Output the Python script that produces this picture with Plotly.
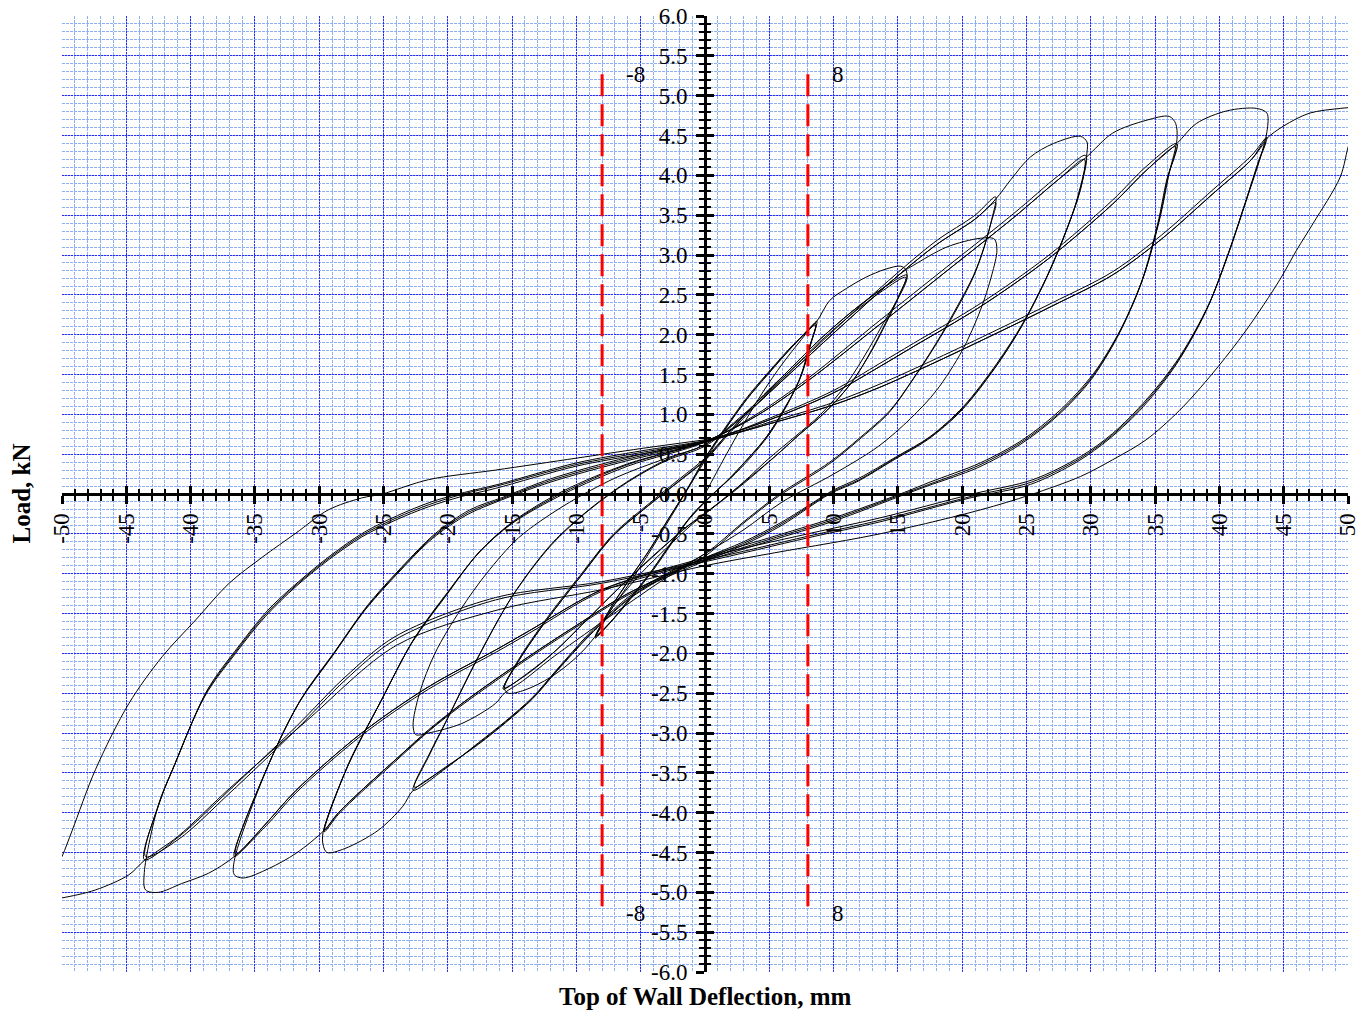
import plotly.graph_objects as go

# ---------------- tick labels ----------------
x_ticks = [-50, -45, -40, -35, -30, -25, -20, -15, -10, -5, 0, 5, 10, 15, 20, 25, 30, 35, 40, 45, 50]
x_tick_labels = ['-50', '-45', '-40', '-35', '-30', '-25', '-20', '-15', '-10', '-5', '0',
                 '5', '10', '15', '20', '25', '30', '35', '40', '45', '50']
y_ticks = [-6.0, -5.5, -5.0, -4.5, -4.0, -3.5, -3.0, -2.5, -2.0, -1.5, -1.0, -0.5, 0.0,
           0.5, 1.0, 1.5, 2.0, 2.5, 3.0, 3.5, 4.0, 4.5, 5.0, 5.5, 6.0]
y_tick_labels = ['-6.0', '-5.5', '-5.0', '-4.5', '-4.0', '-3.5', '-3.0', '-2.5', '-2.0', '-1.5', '-1.0', '-0.5', '0.0',
                 '0.5', '1.0', '1.5', '2.0', '2.5', '3.0', '3.5', '4.0', '4.5', '5.0', '5.5', '6.0']

# ---------------- reference limit lines ----------------
limit_x = [-8, 8]
limit_labels = ['-8', '8']
limit_y_top = 5.27
limit_y_bottom = -5.27

# ---------------- hysteresis data (deflection mm, load kN) ----------------
g1_c1 = [(0.0, 0.0), (1.5, 0.45), (3.0, 0.88), (4.5, 1.28), (6.0, 1.63), (7.5, 1.94), (8.7, 2.17),
         (8.3, 1.92), (7.5, 1.5), (6.5, 1.15), (5.0, 0.75), (3.5, 0.45), (2.0, 0.2), (0.6, 0.0), (-1.0, -0.26),
         (-2.5, -0.6), (-4.0, -0.95), (-5.5, -1.26), (-7.0, -1.55), (-8.55, -1.81),
         (-7.5, -1.5), (-6.0, -1.15), (-4.5, -0.78), (-3.0, -0.38), (-1.5, 0.02), (0.0, 0.42)]
g1_c2 = [(1.5, 0.8), (3.2, 1.18), (5.0, 1.52), (6.8, 1.85), (8.6, 2.14),
         (8.2, 1.88), (7.4, 1.45), (6.2, 1.08), (4.8, 0.72), (3.2, 0.42), (1.8, 0.18), (0.3, -0.05), (-1.2, -0.3),
         (-2.8, -0.65), (-4.3, -1.0), (-5.8, -1.3), (-7.2, -1.58), (-8.5, -1.78),
         (-7.4, -1.45), (-5.9, -1.08), (-4.4, -0.72), (-2.9, -0.33), (-1.4, 0.06), (0.0, 0.45)]
g1_c3 = [(1.6, 0.84), (3.3, 1.22), (5.1, 1.56), (6.9, 1.88), (8.6, 2.12),
         (8.1, 1.84), (7.3, 1.42), (6.1, 1.05), (4.7, 0.7), (3.1, 0.4), (1.7, 0.16), (0.2, -0.07), (-1.3, -0.33),
         (-2.9, -0.68), (-4.4, -1.02), (-5.9, -1.32), (-7.3, -1.6), (-8.5, -1.79),
         (-7.3, -1.42), (-5.8, -1.05), (-4.3, -0.7), (-2.8, -0.3), (-1.3, 0.08), (0.0, 0.45)]

g2_c1 = [(1.6, 0.82), (3.3, 1.2), (5.1, 1.55), (6.9, 1.87), (8.7, 2.17), (9.7, 2.43), (11.0, 2.58), (12.5, 2.72),
         (14.0, 2.82), (15.2, 2.86), (15.6, 2.82), (15.7, 2.7),
         (15.0, 2.45), (14.0, 2.18), (12.8, 1.84), (11.0, 1.38), (9.0, 1.0), (7.0, 0.72), (5.0, 0.45), (3.0, 0.15),
         (1.0, -0.12), (-1.0, -0.38), (-3.0, -0.68), (-5.0, -1.0), (-7.0, -1.38), (-8.6, -1.8),
         (-10.0, -2.05), (-12.0, -2.3), (-14.0, -2.46), (-15.3, -2.5), (-15.6, -2.44),
         (-14.5, -2.1), (-12.3, -1.58), (-9.7, -1.04), (-7.1, -0.52), (-4.5, -0.16), (-1.9, 0.18), (0.0, 0.43)]
g2_c2 = [(2.0, 0.8), (4.0, 1.15), (6.5, 1.55), (9.0, 1.95), (11.5, 2.3), (13.8, 2.58), (15.7, 2.75),
         (15.1, 2.5), (14.2, 2.2), (13.0, 1.82), (11.5, 1.42), (9.5, 1.05), (7.5, 0.77), (5.5, 0.48), (3.2, 0.17),
         (1.0, -0.12), (-1.5, -0.42), (-4.0, -0.78), (-6.5, -1.15), (-9.0, -1.55), (-11.5, -1.95), (-13.8, -2.25),
         (-15.7, -2.45),
         (-14.6, -2.12), (-12.4, -1.6), (-9.8, -1.06), (-7.2, -0.53), (-4.6, -0.17), (-2.0, 0.16), (0.0, 0.42)]
g2_c3 = [(2.0, 0.78), (4.0, 1.12), (6.5, 1.52), (9.0, 1.92), (11.5, 2.27), (13.8, 2.55), (15.6, 2.72),
         (15.0, 2.45), (14.1, 2.15), (12.9, 1.78), (11.3, 1.38), (9.3, 1.02), (7.3, 0.74), (5.3, 0.45), (3.0, 0.13),
         (0.8, -0.15), (-1.7, -0.45), (-4.2, -0.8), (-6.7, -1.18), (-9.2, -1.58), (-11.7, -1.98), (-13.9, -2.27),
         (-15.6, -2.43),
         (-14.5, -2.08), (-12.3, -1.56), (-9.7, -1.02), (-7.1, -0.5), (-4.5, -0.14), (-1.9, 0.2), (0.0, 0.45)]

g3_c1 = [(2.0, 0.8), (4.0, 1.15), (6.5, 1.55), (9.0, 1.95), (11.5, 2.3), (13.8, 2.58), (15.5, 2.8), (16.2, 2.87),
         (18.8, 3.1), (21.4, 3.21), (22.5, 3.2), (22.7, 3.06),
         (22.3, 2.75), (21.4, 2.3), (20.0, 1.8), (18.0, 1.3), (16.0, 0.95), (13.5, 0.6), (10.0, 0.25), (6.0, -0.1),
         (3.0, -0.45), (0.0, -0.75), (-3.0, -1.05), (-6.0, -1.38), (-9.0, -1.72), (-12.0, -2.07), (-14.2, -2.35),
         (-15.6, -2.5), (-16.3, -2.63), (-18.9, -2.88), (-21.5, -3.0), (-22.5, -3.02), (-22.7, -2.9),
         (-22.2, -2.5), (-21.0, -2.0), (-19.0, -1.45), (-17.0, -1.0), (-14.5, -0.55), (-11.0, -0.15), (-7.0, 0.2),
         (-3.0, 0.45), (0.0, 0.62)]
g3_c2 = [(3.0, 1.0), (6.0, 1.45), (9.0, 1.9), (12.0, 2.35), (15.0, 2.78), (18.0, 3.18), (21.0, 3.5), (22.6, 3.73),
         (22.3, 3.45), (21.7, 3.1), (20.9, 2.75), (19.6, 2.35), (18.0, 1.9), (16.2, 1.45), (14.4, 1.05), (12.0, 0.7),
         (9.7, 0.4), (5.8, 0.0), (3.0, -0.35), (0.0, -0.75),
         (-3.0, -1.0), (-6.0, -1.3), (-9.0, -1.75), (-11.5, -2.2), (-13.4, -2.55), (-15.5, -2.85), (-17.6, -3.12),
         (-20.2, -3.45), (-22.7, -3.72),
         (-21.5, -3.3), (-20.2, -2.88), (-17.6, -2.04), (-15.0, -1.29), (-12.0, -0.65), (-9.0, -0.2), (-6.0, 0.15),
         (-3.0, 0.42), (0.0, 0.6)]
g3_c3 = [(3.0, 0.98), (6.0, 1.42), (9.0, 1.87), (12.0, 2.31), (15.0, 2.74), (18.0, 3.13), (21.0, 3.45), (22.6, 3.66),
         (22.2, 3.38), (21.6, 3.04), (20.8, 2.7), (19.5, 2.3), (17.9, 1.86), (16.1, 1.42), (14.3, 1.02), (11.9, 0.67),
         (9.6, 0.37), (5.7, -0.03), (2.9, -0.38), (0.0, -0.78),
         (-3.0, -1.03), (-6.0, -1.33), (-9.0, -1.78), (-11.5, -2.22), (-13.4, -2.57), (-15.5, -2.87), (-17.6, -3.14),
         (-20.2, -3.43), (-22.6, -3.68),
         (-21.4, -3.25), (-20.1, -2.84), (-17.5, -2.0), (-14.9, -1.26), (-11.9, -0.62), (-8.9, -0.18), (-5.9, 0.17),
         (-2.9, 0.44), (0.0, 0.62)]

g4_c1 = [(3.0, 0.98), (6.0, 1.42), (9.0, 1.87), (12.0, 2.31), (15.0, 2.74), (18.0, 3.13), (21.0, 3.45), (22.6, 3.7),
         (23.8, 3.95), (25.3, 4.23), (27.1, 4.4), (29.2, 4.49), (29.7, 4.42), (29.7, 4.28),
         (29.2, 3.82), (28.1, 3.31), (26.6, 2.73), (24.7, 2.14), (22.7, 1.64), (20.1, 1.1), (17.5, 0.72), (14.9, 0.47),
         (12.0, 0.2), (10.0, 0.05), (6.0, -0.35), (3.0, -0.6), (0.0, -0.8),
         (-3.0, -1.02), (-6.0, -1.32), (-9.0, -1.77), (-11.5, -2.21), (-13.4, -2.56), (-15.5, -2.86), (-17.6, -3.13),
         (-20.2, -3.44), (-22.7, -3.72), (-23.5, -3.92), (-25.4, -4.22), (-28.0, -4.45), (-29.4, -4.5),
         (-29.7, -4.4), (-29.7, -4.25),
         (-27.9, -3.46), (-25.3, -2.63), (-22.8, -1.87), (-20.2, -1.29), (-17.6, -0.74), (-15.0, -0.37), (-11.0, 0.0),
         (-6.0, 0.35), (0.0, 0.65)]
g4_c2 = [(4.0, 1.0), (8.0, 1.45), (13.6, 2.18), (18.8, 2.85), (24.0, 3.52), (27.5, 4.0), (29.6, 4.25),
         (29.1, 3.78), (28.0, 3.27), (26.5, 2.7), (24.6, 2.1), (22.6, 1.6), (20.0, 1.07), (17.4, 0.7), (14.8, 0.45),
         (12.0, 0.18), (9.8, 0.02), (6.0, -0.37), (3.0, -0.62), (0.0, -0.82),
         (-6.0, -1.25), (-10.0, -1.65), (-13.7, -2.04), (-16.3, -2.33), (-18.9, -2.63), (-21.5, -2.96), (-24.1, -3.34),
         (-26.7, -3.72), (-28.5, -4.0), (-29.6, -4.22),
         (-27.8, -3.42), (-25.2, -2.6), (-22.7, -1.84), (-20.1, -1.26), (-17.5, -0.72), (-14.9, -0.35), (-11.0, 0.02),
         (-6.0, 0.37), (0.0, 0.66)]
g4_c3 = [(4.0, 0.98), (8.0, 1.42), (13.6, 2.13), (18.8, 2.8), (24.0, 3.47), (27.5, 3.95), (29.5, 4.2),
         (29.0, 3.74), (27.9, 3.22), (26.4, 2.66), (24.5, 2.07), (22.5, 1.57), (19.9, 1.04), (17.3, 0.68), (14.7, 0.43),
         (11.9, 0.16), (9.7, 0.0), (6.0, -0.39), (3.0, -0.64), (0.0, -0.84),
         (-6.0, -1.27), (-10.0, -1.67), (-13.7, -2.06), (-16.3, -2.35), (-18.9, -2.65), (-21.5, -2.98), (-24.1, -3.36),
         (-26.7, -3.74), (-28.5, -4.02), (-29.6, -4.24),
         (-27.7, -3.38), (-25.1, -2.57), (-22.6, -1.81), (-20.0, -1.23), (-17.4, -0.7), (-14.8, -0.33), (-11.0, 0.04),
         (-6.0, 0.38), (0.0, 0.66)]

g5_c1 = [(4.0, 0.98), (8.0, 1.42), (13.6, 2.13), (18.8, 2.8), (24.0, 3.47), (27.5, 3.95), (29.6, 4.22), (31.7, 4.53),
         (34.3, 4.69), (36.1, 4.74), (36.6, 4.65), (36.7, 4.45),
         (36.1, 4.03), (35.4, 3.48), (34.1, 2.73), (32.3, 2.06), (30.2, 1.51), (27.6, 1.05), (24.7, 0.68), (21.4, 0.39),
         (17.5, 0.15), (15.5, 0.02), (10.0, -0.3), (5.0, -0.55), (0.0, -0.8),
         (-6.0, -1.25), (-10.0, -1.65), (-13.7, -2.04), (-18.9, -2.63), (-24.1, -3.34), (-28.5, -4.0), (-29.6, -4.22),
         (-31.8, -4.51), (-33.9, -4.7), (-35.9, -4.82), (-36.6, -4.78), (-36.6, -4.6),
         (-34.1, -3.46), (-31.6, -2.63), (-29.0, -2.04), (-26.4, -1.45), (-23.8, -0.98), (-21.2, -0.56), (-18.5, -0.26),
         (-15.9, -0.08), (-12.0, 0.15), (-6.0, 0.42), (0.0, 0.65)]
g5_c2 = [(5.0, 0.95), (10.0, 1.3), (13.6, 1.64), (16.2, 1.89), (21.4, 2.39), (26.6, 2.98), (31.7, 3.69), (34.3, 4.11),
         (36.7, 4.4),
         (36.0, 3.98), (35.3, 3.43), (34.0, 2.68), (32.2, 2.02), (30.1, 1.47), (27.5, 1.01), (24.6, 0.65), (21.3, 0.36),
         (17.4, 0.12), (15.4, 0.0), (10.0, -0.32), (5.0, -0.57), (0.0, -0.82),
         (-8.0, -1.2), (-13.7, -1.72), (-16.3, -1.96), (-21.5, -2.42), (-26.7, -3.0), (-31.8, -3.72), (-34.1, -4.13),
         (-36.6, -4.55),
         (-34.0, -3.42), (-31.5, -2.6), (-28.9, -2.01), (-26.3, -1.42), (-23.7, -0.95), (-21.1, -0.53), (-18.4, -0.23),
         (-15.8, -0.06), (-12.0, 0.17), (-6.0, 0.44), (0.0, 0.66)]
g5_c3 = [(5.0, 0.93), (10.0, 1.27), (13.6, 1.6), (16.2, 1.85), (21.4, 2.35), (26.6, 2.94), (31.7, 3.64), (34.3, 4.06),
         (36.6, 4.36),
         (35.9, 3.94), (35.2, 3.39), (33.9, 2.64), (32.1, 1.98), (30.0, 1.43), (27.4, 0.98), (24.5, 0.62), (21.2, 0.33),
         (17.3, 0.1), (15.3, -0.02), (10.0, -0.34), (5.0, -0.59), (0.0, -0.84),
         (-8.0, -1.22), (-13.7, -1.75), (-16.3, -1.99), (-21.5, -2.45), (-26.7, -3.03), (-31.8, -3.75), (-34.1, -4.16),
         (-36.5, -4.52),
         (-33.9, -3.38), (-31.4, -2.57), (-28.8, -1.98), (-26.2, -1.39), (-23.6, -0.92), (-21.0, -0.5), (-18.3, -0.2),
         (-15.7, -0.04), (-12.0, 0.19), (-6.0, 0.46), (0.0, 0.67)]

g6_c1 = [(5.0, 0.93), (10.0, 1.27), (13.6, 1.6), (16.2, 1.85), (21.4, 2.35), (26.6, 2.94), (31.7, 3.64), (34.3, 4.06),
         (36.7, 4.4), (38.2, 4.65), (40.6, 4.81), (42.9, 4.84), (43.7, 4.78), (43.7, 4.55),
         (43.2, 4.23), (42.1, 3.69), (40.8, 3.06), (39.2, 2.39), (36.9, 1.72), (34.3, 1.18), (31.7, 0.76), (29.2, 0.47),
         (25.5, 0.18), (20.8, 0.0), (13.6, -0.3), (8.0, -0.5), (0.0, -0.8),
         (-8.0, -1.2), (-13.7, -1.72), (-16.3, -1.96), (-21.5, -2.42), (-26.7, -3.0), (-31.8, -3.72), (-34.1, -4.13),
         (-36.6, -4.55), (-38.6, -4.76), (-40.7, -4.89), (-42.5, -5.0), (-43.5, -4.97), (-43.6, -4.75),
         (-42.5, -3.9), (-41.4, -3.46), (-38.9, -2.54), (-36.5, -2.0), (-34.2, -1.54), (-31.8, -1.16), (-29.3, -0.83),
         (-26.7, -0.54), (-24.1, -0.33), (-21.5, -0.16), (-18.9, -0.03), (-16.3, 0.07), (-10.0, 0.35), (-5.0, 0.5),
         (0.0, 0.65)]
g6_c2 = [(5.0, 0.9), (10.0, 1.15), (13.6, 1.38), (18.0, 1.7), (22.7, 2.06), (27.0, 2.4), (31.7, 2.79), (35.5, 3.25),
         (39.5, 3.82), (42.5, 4.25), (43.7, 4.48),
         (43.1, 4.2), (42.0, 3.65), (40.7, 3.02), (39.1, 2.35), (36.8, 1.68), (34.2, 1.14), (31.6, 0.73), (29.1, 0.44),
         (25.4, 0.15), (20.7, -0.03), (13.6, -0.33), (8.0, -0.53), (0.0, -0.83),
         (-8.0, -1.1), (-16.3, -1.3), (-24.1, -1.79), (-28.0, -2.3), (-31.8, -2.92), (-37.0, -3.72), (-40.9, -4.3),
         (-43.6, -4.59),
         (-42.4, -3.86), (-41.3, -3.42), (-38.8, -2.5), (-36.4, -1.96), (-34.1, -1.5), (-31.7, -1.13), (-29.2, -0.8),
         (-26.6, -0.51), (-24.0, -0.3), (-21.4, -0.13), (-18.8, 0.0), (-16.2, 0.1), (-10.0, 0.37), (-5.0, 0.52),
         (0.0, 0.66)]
g6_c3 = [(5.0, 0.88), (10.0, 1.12), (13.6, 1.34), (18.0, 1.66), (22.7, 2.02), (27.0, 2.36), (31.7, 2.75), (35.5, 3.2),
         (39.5, 3.77), (42.5, 4.2), (43.6, 4.42),
         (43.0, 4.15), (41.9, 3.6), (40.6, 2.98), (39.0, 2.31), (36.7, 1.64), (34.1, 1.1), (31.5, 0.7), (29.0, 0.41),
         (25.3, 0.12), (20.6, -0.05), (13.6, -0.35), (8.0, -0.55), (0.0, -0.85),
         (-8.0, -1.12), (-16.3, -1.33), (-24.1, -1.83), (-28.0, -2.34), (-31.8, -2.96), (-37.0, -3.76), (-40.9, -4.33),
         (-43.5, -4.55),
         (-42.3, -3.82), (-41.2, -3.38), (-38.7, -2.46), (-36.3, -1.92), (-34.0, -1.46), (-31.6, -1.1), (-29.1, -0.77),
         (-26.5, -0.48), (-23.9, -0.27), (-21.3, -0.1), (-18.7, 0.02), (-16.1, 0.12), (-10.0, 0.39), (-5.0, 0.54),
         (0.0, 0.67)]

final_push = [(5.0, 0.88), (10.0, 1.12), (13.6, 1.34), (18.0, 1.66), (22.7, 2.02), (27.0, 2.36), (31.7, 2.75),
              (35.5, 3.2), (39.5, 3.77), (42.5, 4.2), (43.6, 4.45), (45.0, 4.62), (47.0, 4.78), (49.4, 4.84),
              (51.0, 4.86)]
final_return = [(50.6, 4.55), (50.1, 4.4), (49.4, 3.98), (47.3, 3.4), (46.0, 3.06), (44.7, 2.69), (42.1, 2.06),
                (39.5, 1.52), (36.9, 1.05), (34.3, 0.68), (31.7, 0.43), (29.2, 0.22), (25.3, -0.01), (21.4, -0.2),
                (13.6, -0.5), (5.0, -0.75), (0.0, -0.9), (-8.0, -1.2), (-16.0, -1.45), (-24.0, -1.9), (-31.0, -2.85),
                (-37.0, -3.7), (-41.0, -4.3), (-43.6, -4.6), (-44.8, -4.78), (-47.4, -4.97), (-50.0, -5.07),
                (-51.0, -5.09)]
final_reload = [(-50.8, -4.8), (-50.0, -4.55), (-49.2, -4.22), (-47.4, -3.46), (-44.8, -2.63), (-42.2, -2.04),
                (-39.6, -1.58), (-37.0, -1.12), (-34.4, -0.79), (-31.8, -0.49), (-29.3, -0.2), (-26.7, -0.05),
                (-25.1, 0.0), (-21.5, 0.18), (-16.3, 0.3), (-10.0, 0.45), (-5.0, 0.57), (0.0, 0.68)]

paths = [
    g1_c1 + g1_c2 + g1_c3 + g2_c1 + g2_c2 + g2_c3 + g3_c1 + g3_c2 + g3_c3
    + g4_c1 + g4_c2 + g4_c3 + g5_c1 + g5_c2 + g5_c3 + g6_c1 + g6_c2 + g6_c3 + final_push,
    final_return,
    final_reload,
]

SERIF = "Liberation Serif"
fig = go.Figure()

for p in paths:
    fig.add_trace(go.Scatter(
        x=[pt[0] for pt in p], y=[pt[1] for pt in p], mode="lines",
        line=dict(color="black", width=1, shape="spline", smoothing=0.9),
        hoverinfo="skip", showlegend=False))

# red limit lines (drawn top -> bottom so the dash pattern starts at the top)
for lx in limit_x:
    fig.add_trace(go.Scatter(
        x=[lx, lx], y=[limit_y_top, limit_y_bottom], mode="lines",
        line=dict(color="#ff0000", width=3, dash="22px,8px"),
        hoverinfo="skip", showlegend=False))

# dummy trace to activate the overlay axes (inner tick marks)
fig.add_trace(go.Scatter(x=[], y=[], xaxis="x2", yaxis="y2", showlegend=False, hoverinfo="skip"))

major_grid = "#2a2aff"
minor_grid = "#8db0f2"
tickfont = dict(family=SERIF, size=23, color="black")

fig.update_layout(
    width=1370, height=1016,
    margin=dict(l=62, r=22, t=16, b=44, autoexpand=False),
    paper_bgcolor="white", plot_bgcolor="white",
    showlegend=False,
    xaxis=dict(
        range=[-50, 50], domain=[0, 1], anchor="free", position=0.5, automargin=False,
        showline=True, linecolor="black", linewidth=3,
        tickmode="array", tickvals=x_ticks, ticktext=x_tick_labels, tickangle=-90,
        ticks="outside", ticklen=8, tickwidth=3, tickcolor="black", tickfont=tickfont,
        ticklabeloverflow="allow",
        showgrid=True, gridcolor=major_grid, griddash="2px,1px", gridwidth=1,
        zeroline=False, fixedrange=True,
        minor=dict(tick0=0, dtick=1, ticks="outside", ticklen=5, tickwidth=2, tickcolor="black",
                   showgrid=True, gridcolor=minor_grid, griddash="3px,1px", gridwidth=1),
    ),
    yaxis=dict(
        range=[-6, 6], domain=[0, 1], anchor="free", position=0.5, automargin=False,
        showline=True, linecolor="black", linewidth=3,
        tickmode="array", tickvals=y_ticks, ticktext=y_tick_labels,
        ticks="outside", ticklen=8, tickwidth=3, tickcolor="black", tickfont=tickfont,
        ticklabeloverflow="allow", ticklabelstandoff=4,
        showgrid=True, gridcolor=major_grid, griddash="2px,1px", gridwidth=1,
        zeroline=False, fixedrange=True,
        minor=dict(tick0=0, dtick=0.1, ticks="outside", ticklen=5, tickwidth=2, tickcolor="black",
                   showgrid=True, gridcolor=minor_grid, griddash="3px,1px", gridwidth=1),
    ),
    xaxis2=dict(
        range=[-50, 50], overlaying="x", anchor="free", position=0.5, automargin=False,
        showline=False, showticklabels=False, showgrid=False, zeroline=False,
        tickmode="array", tickvals=x_ticks,
        ticks="inside", ticklen=8, tickwidth=3, tickcolor="black", fixedrange=True,
        minor=dict(tick0=0, dtick=1, ticks="inside", ticklen=5, tickwidth=2, tickcolor="black", showgrid=False),
    ),
    yaxis2=dict(
        range=[-6, 6], overlaying="y", anchor="free", position=0.5, automargin=False,
        showline=False, showticklabels=False, showgrid=False, zeroline=False,
        tickmode="array", tickvals=y_ticks,
        ticks="inside", ticklen=8, tickwidth=3, tickcolor="black", fixedrange=True,
        minor=dict(tick0=0, dtick=0.1, ticks="inside", ticklen=5, tickwidth=2, tickcolor="black", showgrid=False),
    ),
)

# limit labels
for lx, lab in zip(limit_x, limit_labels):
    for ly in (limit_y_top, limit_y_bottom):
        fig.add_annotation(x=lx, y=ly, xref="x", yref="y", text=lab, showarrow=False,
                           xanchor="left", yanchor="middle", xshift=22,
                           font=dict(family=SERIF, size=23, color="black"))

# axis titles
fig.add_annotation(x=0.5, y=0, xref="paper", yref="paper", text="<b>Top of Wall Deflection, mm</b>",
                   showarrow=False, xanchor="center", yanchor="top", yshift=-9,
                   font=dict(family=SERIF, size=25, color="black"))
fig.add_annotation(x=0, y=0.5, xref="paper", yref="paper", text="<b>Load, kN</b>", textangle=-90,
                   showarrow=False, xanchor="right", yanchor="middle", xshift=-26,
                   font=dict(family=SERIF, size=25, color="black"))

# remove the browser's default 8px body margin so the figure fills the window exactly
fig.write_html("out.html", config={"displayModeBar": False},
               post_script="document.body.style.margin='0';")
